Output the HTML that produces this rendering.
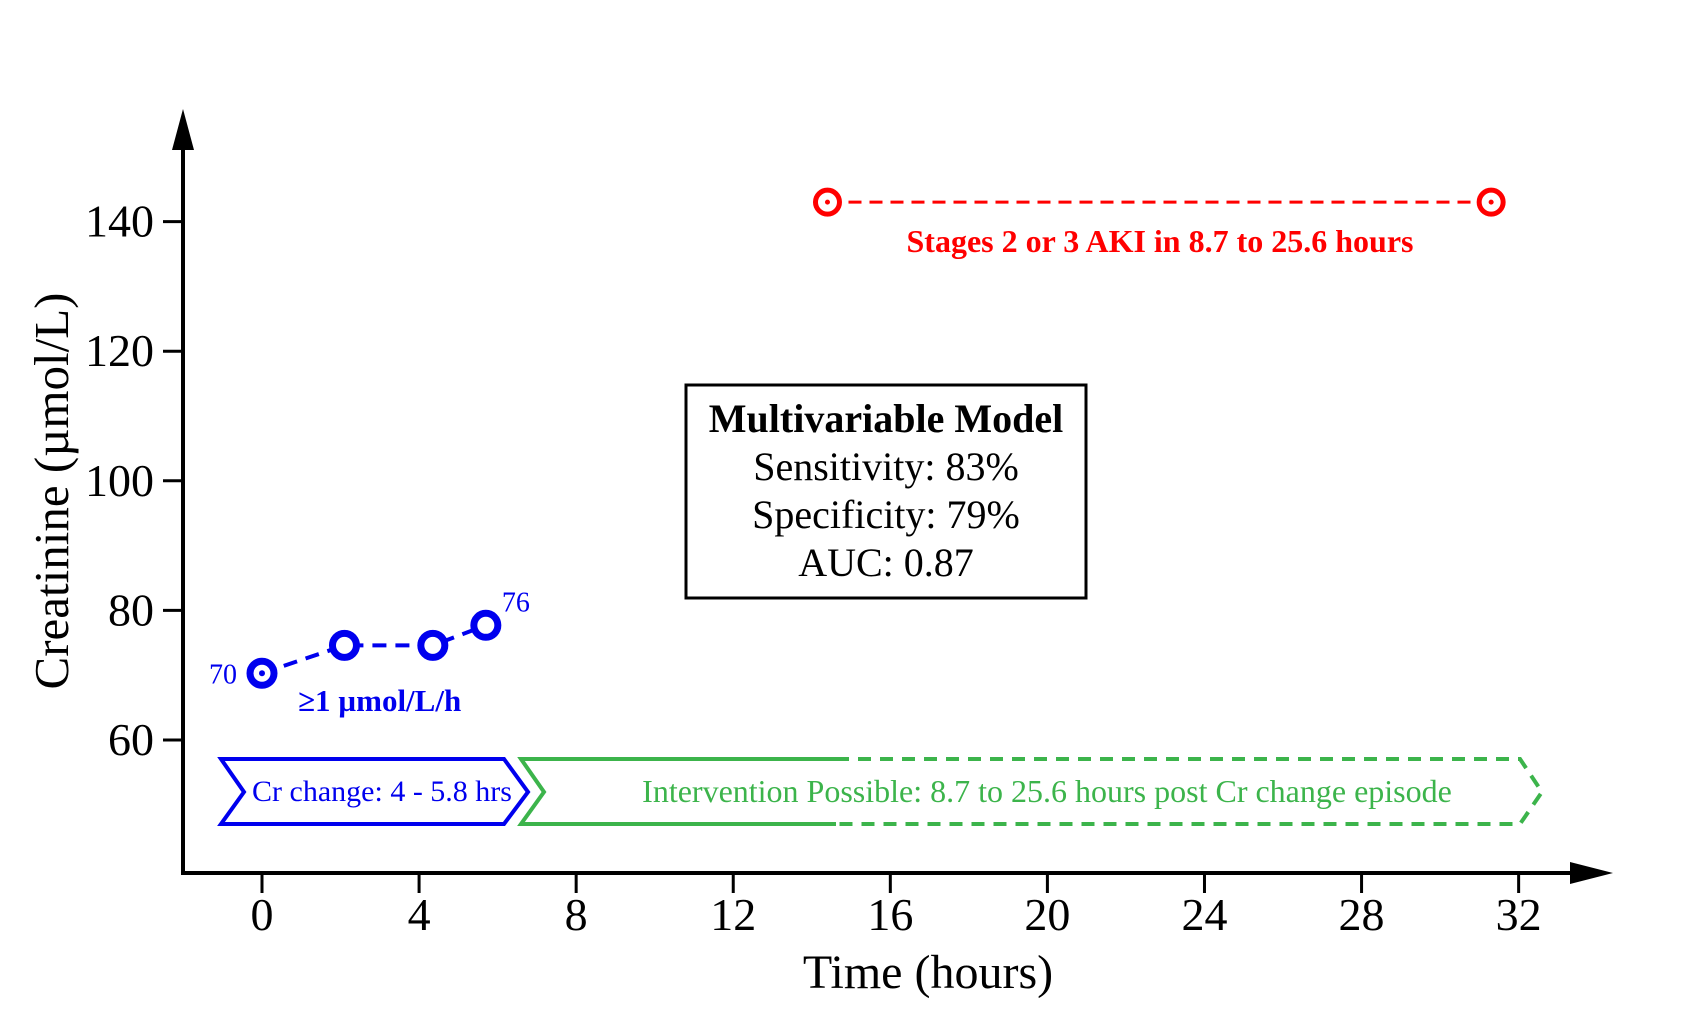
<!DOCTYPE html>
<html><head><meta charset="utf-8"><style>
html,body{margin:0;padding:0;background:#fff}
svg{display:block;font-family:"Liberation Serif",serif}
</style></head><body>
<svg id="chart" width="1701" height="1021" viewBox="0 0 1701 1021">
<g id="axes"></g>
<g id="marks"></g>
</svg>
<script>
const xTicks=[0,4,8,12,16,20,24,28,32];
const yTicks=[60,80,100,120,140];
const blueX=[0,2.1,4.35,5.7];
const blueY=[70.3,74.6,74.6,77.7];
const redX=[14.4,31.3];
const redY=[143,143];
const NS='http://www.w3.org/2000/svg';
const X=v=>262+v*39.27;
const Y=v=>740-(v-60)*6.48;
function mk(tag,attrs,parent,text){const e=document.createElementNS(NS,tag);for(const k in attrs)e.setAttribute(k,attrs[k]);if(text!==undefined)e.textContent=text;parent.appendChild(e);return e;}
const ax=document.getElementById('axes'),mg=document.getElementById('marks');
let e;
e=mk('line',{x1:183,y1:873,x2:1575,y2:873,stroke:'#000','stroke-width':4},ax);

e=mk('polygon',{points:'1570,862 1613,873 1570,884',fill:'#000'},ax);

e=mk('line',{x1:183,y1:875,x2:183,y2:145,stroke:'#000','stroke-width':4},ax);

e=mk('polygon',{points:'172,150 183,109 194,150',fill:'#000'},ax);

xTicks.forEach(t=>{
 e=mk('line',{x1:X(t),y1:873,x2:X(t),y2:893,stroke:'#000','stroke-width':3},ax);
 
 e=mk('text',{x:X(t),y:930,'font-size':46,'text-anchor':'middle'},ax,String(t));
 
});
yTicks.forEach(t=>{
 e=mk('line',{x1:163,y1:Y(t),x2:183,y2:Y(t),stroke:'#000','stroke-width':3},ax);
 
 e=mk('text',{x:154,y:Y(t)+15,'font-size':46,'text-anchor':'end'},ax,String(t));
 
});
e=mk('text',{x:928,y:988,'font-size':48,'text-anchor':'middle'},ax,'Time (hours)');

e=mk('text',{x:0,y:0,'font-size':49,'text-anchor':'middle',transform:'translate(68,491) rotate(-90)'},ax,'Creatinine (µmol/L)');

// blue series
e=mk('polyline',{points:blueX.map((v,i)=>X(v)+','+Y(blueY[i])).join(' '),fill:'none',stroke:'#0000ee','stroke-width':4,'stroke-dasharray':'14,9'},mg);

blueX.forEach((v,i)=>{
 e=mk('circle',{cx:X(v),cy:Y(blueY[i]),r:12,fill:'#fff',stroke:'#0000ee','stroke-width':7},mg);
 
});
e=mk('circle',{cx:X(blueX[0]),cy:Y(blueY[0]),r:3,fill:'#0000ee'},mg);

e=mk('text',{x:X(blueX[0])-25,y:Y(blueY[0])+10,'font-size':28,fill:'#0000ee','text-anchor':'end'},mg,'70');

e=mk('text',{x:X(blueX[3])+16,y:Y(blueY[3])-14,'font-size':28,fill:'#0000ee'},mg,'76');

e=mk('text',{x:298,y:711,'font-size':31,'font-weight':'bold',fill:'#0000ee'},mg,'≥1 µmol/L/h');

// red series
e=mk('polyline',{points:redX.map((v,i)=>X(v)+','+Y(redY[i])).join(' '),fill:'none',stroke:'#ff0000','stroke-width':3,'stroke-dasharray':'13,8'},mg);

redX.forEach((v,i)=>{
 e=mk('circle',{cx:X(v),cy:Y(redY[i]),r:12,fill:'#fff',stroke:'#ff0000','stroke-width':5},mg);
 
 e=mk('circle',{cx:X(v),cy:Y(redY[i]),r:2.5,fill:'#ff0000'},mg);
 
});
e=mk('text',{x:1160,y:252,'font-size':32,'font-weight':'bold',fill:'#ff0000','text-anchor':'middle'},mg,'Stages 2 or 3 AKI in 8.7 to 25.6 hours');

// chevrons
e=mk('polygon',{points:'221,759 504,759 528,792 504,824 221,824 244,792',fill:'none',stroke:'#0000ee','stroke-width':4},mg);

e=mk('text',{x:382,y:801,'font-size':30,fill:'#0000ee','text-anchor':'middle'},mg,'Cr change: 4 - 5.8 hrs');

e=mk('polyline',{points:'836,759 521,759 544,792 521,824 836,824',fill:'none',stroke:'#3cb44b','stroke-width':4},mg);

e=mk('polyline',{points:'836,759 1520,759 1542,792 1520,824 836,824',fill:'none',stroke:'#3cb44b','stroke-width':4,'stroke-dasharray':'13,9'},mg);

e=mk('text',{x:1047,y:802,'font-size':32,fill:'#3cb44b','text-anchor':'middle'},mg,'Intervention Possible: 8.7 to 25.6 hours post Cr change episode');

// model box
e=mk('rect',{x:686,y:385,width:400,height:213,fill:'#fff',stroke:'#000','stroke-width':3},mg);

[['Multivariable Model',432,'bold','model-title'],['Sensitivity: 83%',480,'normal','sensitivity'],['Specificity: 79%',528,'normal','specificity'],['AUC: 0.87',576,'normal','auc']].forEach(r=>{
 e=mk('text',{x:886,y:r[1],'font-size':40,'font-weight':r[2],'text-anchor':'middle'},mg,r[0]);
 
 
});
</script>
</body></html>
